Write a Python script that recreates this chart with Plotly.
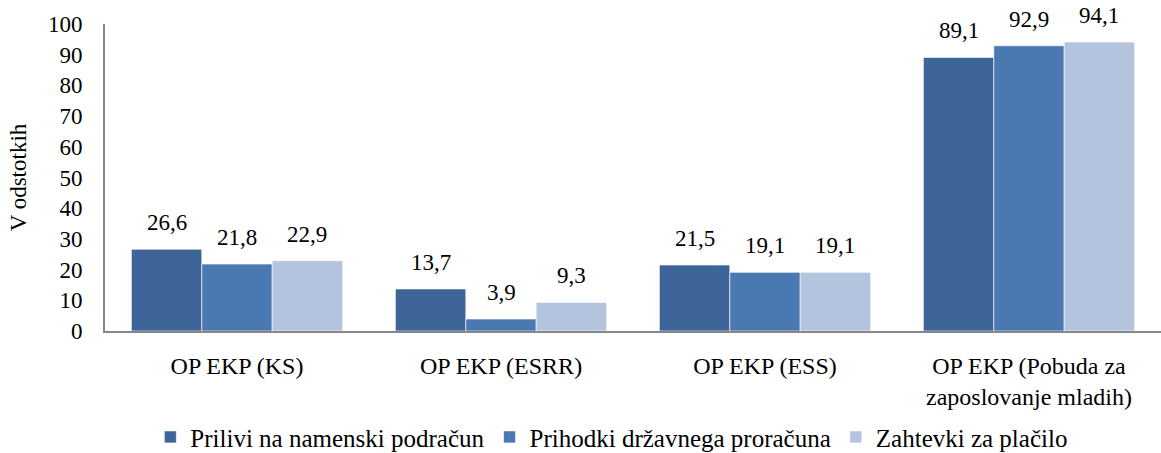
import plotly.graph_objects as go

categories = ["OP EKP (KS)", "OP EKP (ESRR)", "OP EKP (ESS)",
              "OP EKP (Pobuda za<br>zaposlovanje mladih)"]
series_names = ["Prilivi na namenski podračun",
                "Prihodki državnega proračuna",
                "Zahtevki za plačilo"]
prilivi = [26.6, 13.7, 21.5, 89.1]
prihodki = [21.8, 3.9, 19.1, 92.9]
zahtevki = [22.9, 9.3, 19.1, 94.1]
colors = ["#3D6597", "#4A79B1", "#B4C4DF"]

FONT = "Liberation Serif"
series = [prilivi, prihodki, zahtevki]

fig = go.Figure()
for name, vals, col in zip(series_names, series, colors):
    fig.add_trace(go.Bar(
        x=categories, y=vals, name=name,
        marker=dict(color=col, line=dict(color="rgba(255,255,255,0.6)", width=1)),
    ))

# value labels above bars
bar_w = 0.8 / 3
for s, vals in enumerate(series):
    for i, v in enumerate(vals):
        fig.add_annotation(
            x=i + (s - 1) * bar_w, y=v, xref="x", yref="y",
            text=f"{v:.1f}".replace(".", ","), showarrow=False,
            yanchor="bottom", yshift=12,
            font=dict(family=FONT, size=23, color="black"),
        )

fig.update_layout(
    barmode="group", bargap=0.2, bargroupgap=0,
    width=1161, height=453,
    margin=dict(l=105, r=0, t=24, b=122, autoexpand=False),
    paper_bgcolor="white", plot_bgcolor="white",
    font=dict(family=FONT, size=23, color="black"),
    showlegend=True,
    legend=dict(orientation="h", xref="container", yref="container",
                x=0.527, xanchor="center", y=0.035, yanchor="middle",
                font=dict(family=FONT, size=25, color="black"),
                itemwidth=30, tracegroupgap=0),
)
fig.update_xaxes(
    showline=True, linecolor="#888888", linewidth=2,
    showgrid=False, ticks="", ticklabelstandoff=12,
    tickfont=dict(family=FONT, size=24, color="black"),
)
fig.update_yaxes(
    range=[0, 100], dtick=10, showline=True, linecolor="#888888", linewidth=2,
    showgrid=False, zeroline=False, ticks="", ticklabelstandoff=16,
    tickfont=dict(family=FONT, size=23, color="black"),
    title=dict(text="V odstotkih", standoff=15,
               font=dict(family=FONT, size=23, color="black")),
)

fig.write_html("out.html", post_script="document.body.style.margin='0px';",
               config={"displayModeBar": False})
